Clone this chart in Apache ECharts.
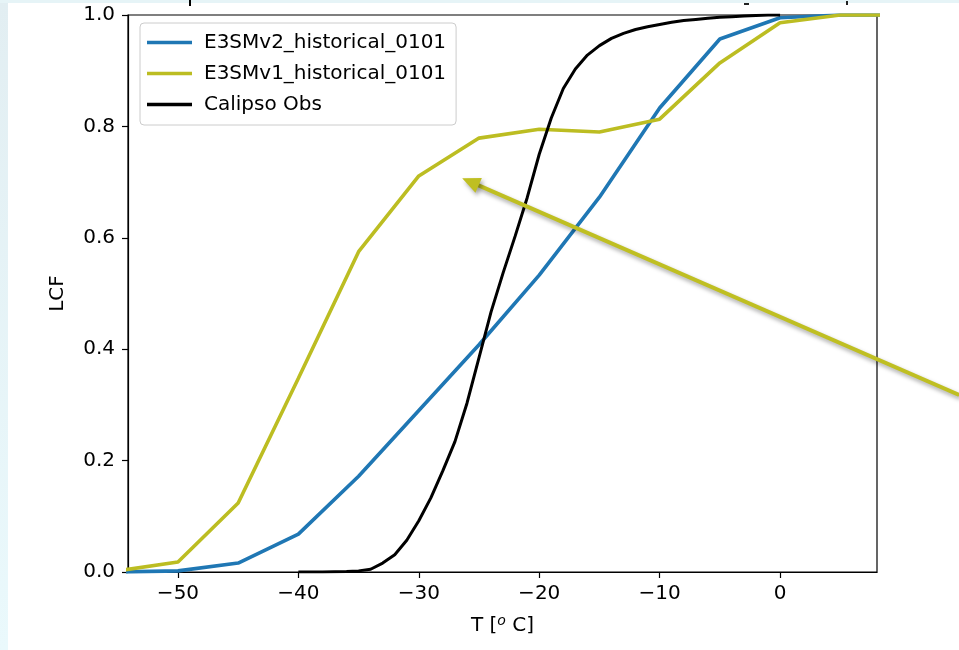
<!DOCTYPE html>
<html><head><meta charset="utf-8">
<script src="https://cdn.jsdelivr.net/npm/echarts@6/dist/echarts.min.js"></script>
<style>html,body{margin:0;padding:0;background:#fff}#c{width:959px;height:650px}</style>
</head><body><div id="c"></div>
<script>
// ---- data ----
const tModel = [-55, -50, -45, -40, -35, -30, -25, -20, -15, -10, -5, 0, 5, 10];
const lcfV2  = [0.0, 0.002, 0.016, 0.068, 0.172, 0.290, 0.408, 0.533, 0.673, 0.833, 0.957, 0.995, 1.0, 1.0];
const lcfV1  = [0.002, 0.018, 0.124, 0.348, 0.575, 0.711, 0.779, 0.795, 0.790, 0.813, 0.914, 0.986, 1.0, 1.0];
const tObs   = [-40,-39,-38,-37,-36,-35,-34,-33,-32,-31,-30,-29,-28,-27,-26,-25,-24,-23,-22,-21,-20,-19,-18,-17,-16,-15,-14,-13,-12,-11,-10,-9,-8,-7,-6,-5,-4,-3,-2,-1,0];
const lcfObs = [0,0,0,0.0005,0.001,0.002,0.005,0.016,0.031,0.057,0.092,0.133,0.182,0.234,0.303,0.385,0.467,0.537,0.603,0.672,0.750,0.815,0.868,0.903,0.928,0.945,0.958,0.967,0.974,0.979,0.983,0.987,0.990,0.992,0.994,0.996,0.997,0.998,0.999,1.0,1.0];
const seriesNames = ['E3SMv2_historical_0101', 'E3SMv1_historical_0101', 'Calipso Obs'];
const seriesColors = ['#1f77b4', '#bcbd22', '#000000'];
const xTicks = [-50, -40, -30, -20, -10, 0];
const arrowTail = [14.87, 0.318];
const arrowTip  = [-26.4, 0.707];

const zip = (xs, ys) => xs.map((x, i) => [x, ys[i]]);
const FONT = 'DejaVu Sans';
const chart = echarts.init(document.getElementById('c'), null, {renderer: 'canvas'});

const mkLine = (i, data, w) => ({
  name: seriesNames[i], type: 'line', data: data, symbol: 'none', showSymbol: false,
  lineStyle: {color: seriesColors[i], width: w},
  itemStyle: {color: seriesColors[i]},
  emphasis: {disabled: true},
  clip: true
});

chart.setOption({
  animation: false,
  backgroundColor: '#fff',
  textStyle: {fontFamily: FONT},
  grid: {left: 128, right: 82, top: 15, bottom: 78, show: true, borderColor: '#000', borderWidth: 1.2, backgroundColor: 'transparent'},
  legend: {
    orient: 'vertical', left: 140, top: 23,
    data: seriesNames.map(n => ({name: n, icon: 'rect'})),
    itemWidth: 45, itemHeight: 3.5, itemGap: 8,
    padding: [8, 10, 9, 7],
    borderColor: '#cccccc', borderWidth: 1, borderRadius: 4,
    backgroundColor: 'rgba(255,255,255,0.8)',
    textStyle: {fontFamily: FONT, fontSize: 20, color: '#000', padding: [0, 0, 0, 7], lineHeight: 23}
  },
  xAxis: {
    type: 'value', min: -54.15, max: 8.05,
    name: '{a|T [}{s|o}{a| C]}', nameLocation: 'middle', nameGap: 42,
    nameTextStyle: {rich: {
      a: {fontFamily: FONT, fontSize: 20, color: '#000'},
      s: {fontFamily: FONT, fontSize: 14, fontStyle: 'italic', color: '#000', verticalAlign: 'top', padding: [0, 0, 10, 0]}
    }},
    axisLine: {show: true, onZero: false, lineStyle: {color: '#000', width: 1.2}},
    axisTick: {show: true, length: 6, lineStyle: {color: '#000', width: 1.2}, customValues: xTicks},
    axisLabel: {customValues: xTicks, fontFamily: FONT, fontSize: 20, color: '#000', margin: 12,
      formatter: v => String(v).replace('-', '\u2212')},
    splitLine: {show: false}
  },
  yAxis: {
    type: 'value', min: 0, max: 1, interval: 0.2,
    name: 'LCF', nameLocation: 'middle', nameGap: 60, nameRotate: 90,
    nameTextStyle: {fontFamily: FONT, fontSize: 20, color: '#000'},
    axisLine: {show: true, onZero: false, lineStyle: {color: '#000', width: 1.2}},
    axisTick: {show: true, length: 6, lineStyle: {color: '#000', width: 1.2}},
    axisLabel: {fontFamily: FONT, fontSize: 20, color: '#000', margin: 13, formatter: v => v.toFixed(1)},
    splitLine: {show: false}
  },
  series: [
    mkLine(0, zip(tModel, lcfV2), 3.6),
    mkLine(1, zip(tModel, lcfV1), 3.6),
    mkLine(2, zip(tObs, lcfObs), 3.0)
  ]
});

// annotation arrow, positioned from data coordinates
const p1 = chart.convertToPixel({gridIndex: 0}, arrowTail);
const p2 = chart.convertToPixel({gridIndex: 0}, arrowTip);
const dx = p2[0] - p1[0], dy = p2[1] - p1[1];
const len = Math.hypot(dx, dy);
const ux = dx / len, uy = dy / len, nx = -uy, ny = ux;
const L = 18, W = 8;
const bx = p2[0] - ux * L, by = p2[1] - uy * L;
const shadow = {shadowBlur: 4, shadowColor: 'rgba(0,0,0,0.35)', shadowOffsetX: 2, shadowOffsetY: 3};
const ac = '#bfbf22';
chart.setOption({
  graphic: [
    {type: 'rect', left: 0, top: 0, z: 0, shape: {width: 8, height: 650},
      style: {fill: new echarts.graphic.LinearGradient(0, 0, 0, 1, [{offset: 0, color: '#e2eef2'}, {offset: 1, color: '#eaf9fc'}])}},
    {type: 'rect', left: 0, top: 0, z: 0, shape: {width: 959, height: 3}, style: {fill: '#e6f4f7'}},
    {type: 'rect', left: 189, top: 0, z: 10, shape: {width: 2, height: 6}, style: {fill: '#000'}},
    {type: 'rect', left: 744, top: 3, z: 10, shape: {width: 5, height: 2}, style: {fill: '#222'}},
    {type: 'rect', left: 846, top: 1, z: 10, shape: {width: 2, height: 4}, style: {fill: '#222'}},
    {type: 'line', z: 100, shape: {x1: p1[0], y1: p1[1], x2: bx + ux * 2, y2: by + uy * 2},
      style: Object.assign({stroke: ac, lineWidth: 4}, shadow)},
    {type: 'polygon', z: 100, shape: {points: [[p2[0], p2[1]], [bx + nx * W, by + ny * W], [bx - nx * W, by - ny * W]]},
      style: Object.assign({fill: ac}, shadow)}
  ]
});
</script></body></html>
